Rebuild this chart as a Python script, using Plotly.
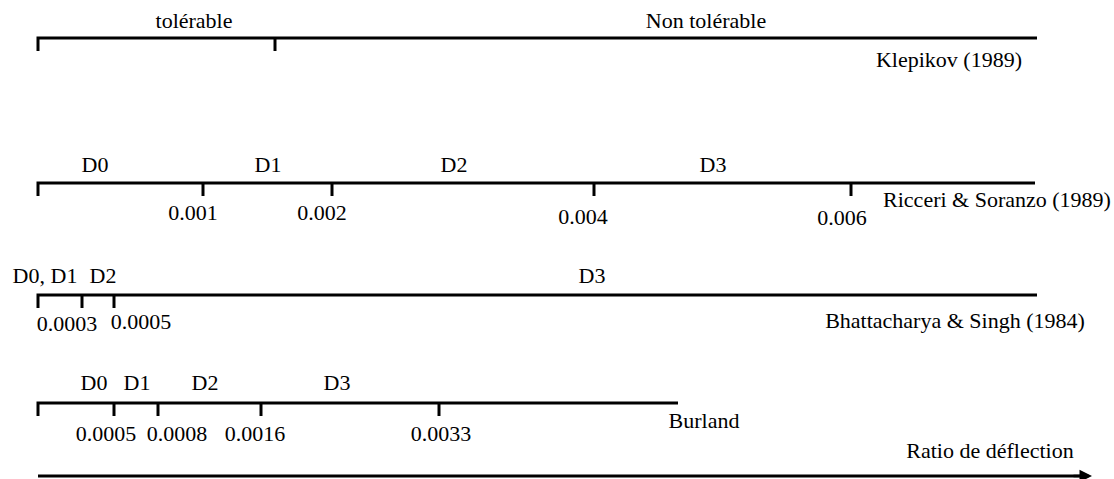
import plotly.graph_objects as go

# Schematic scales (positions in diagram units, left to right)
scale_names = ["Klepikov (1989)", "Ricceri & Soranzo (1989)", "Bhattacharya & Singh (1984)", "Burland"]
scale_rows = [38, 183, 295, 403]
scale_start = [38, 38, 38, 38]
scale_end = [1037, 1035, 1037, 678]

# tick marks on each scale
tick_pos = [[275], [203, 332, 594, 851], [82, 114], [114, 158, 261, 439]]
tick_labels = [[""], ["0.001", "0.002", "0.004", "0.006"], ["0.0003", "0.0005"], ["0.0005", "0.0008", "0.0016", "0.0033"]]
tick_label_x = [[275], [193, 322, 583, 842], [67, 141], [106, 177, 255, 441]]
tick_label_y = [[0], [214, 214, 218, 219], [325, 323], [435, 435, 435, 435]]

# zone names above each scale
zone_labels = [["tolérable", "Non tolérable"], ["D0", "D1", "D2", "D3"], ["D0, D1", "D2", "D3"], ["D0", "D1", "D2", "D3"]]
zone_x = [[194, 706], [95, 268, 454, 713], [45, 103, 592], [94, 137, 205, 337]]
zone_y = [[22, 22], [166, 166, 166, 166], [277, 277, 277], [384, 384, 384, 384]]

name_x = [949, 997, 955, 704]
name_y = [61, 201, 322, 422]

axis_title = "Ratio de déflection"
axis_row = 476
axis_start, axis_end = 38, 1092

FONT = dict(family="Liberation Serif, Times New Roman, serif", size=22, color="black")
TICK_LEN = 13

fig = go.Figure()
for i in range(len(scale_names)):
    y = scale_rows[i]
    xs = [scale_start[i], scale_start[i], scale_end[i]]
    ys = [y + TICK_LEN, y, y]
    fig.add_trace(go.Scatter(x=xs, y=ys, mode="lines", line=dict(color="black", width=3),
                             hoverinfo="skip", showlegend=False))
    for tp in tick_pos[i]:
        fig.add_trace(go.Scatter(x=[tp, tp], y=[y, y + TICK_LEN], mode="lines",
                                 line=dict(color="black", width=3), hoverinfo="skip", showlegend=False))
    labs = [l for l in tick_labels[i] if l]
    if labs:
        fig.add_trace(go.Scatter(x=tick_label_x[i], y=tick_label_y[i], mode="text",
                                 text=tick_labels[i], textfont=FONT, hoverinfo="skip", showlegend=False))
    fig.add_trace(go.Scatter(x=zone_x[i], y=zone_y[i], mode="text", text=zone_labels[i],
                             textfont=FONT, hoverinfo="skip", showlegend=False))
    fig.add_trace(go.Scatter(x=[name_x[i]], y=[name_y[i]], mode="text", text=[scale_names[i]],
                             textfont=FONT, hoverinfo="skip", showlegend=False))

# bottom arrow
fig.add_trace(go.Scatter(x=[axis_start, axis_end - 8], y=[axis_row, axis_row], mode="lines",
                         line=dict(color="black", width=3), hoverinfo="skip", showlegend=False,
                         cliponaxis=False))
fig.add_annotation(x=axis_end, y=axis_row, ax=axis_end - 20, ay=axis_row, xref="x", yref="y",
                   axref="x", ayref="y", text="", showarrow=True, arrowhead=2, arrowsize=1,
                   arrowwidth=2.5, arrowcolor="black")
fig.add_trace(go.Scatter(x=[990], y=[452], mode="text", text=[axis_title], textfont=FONT,
                         hoverinfo="skip", showlegend=False))

fig.update_layout(
    width=1114, height=479, margin=dict(l=0, r=0, t=0, b=0),
    plot_bgcolor="white", paper_bgcolor="white",
    xaxis=dict(range=[0, 1114], visible=False, fixedrange=True),
    yaxis=dict(range=[479, 0], visible=False, fixedrange=True),
)
fig.write_html("out.html", config={"displayModeBar": False},
               post_script="document.body.style.margin='0';document.body.style.overflow='hidden';")
